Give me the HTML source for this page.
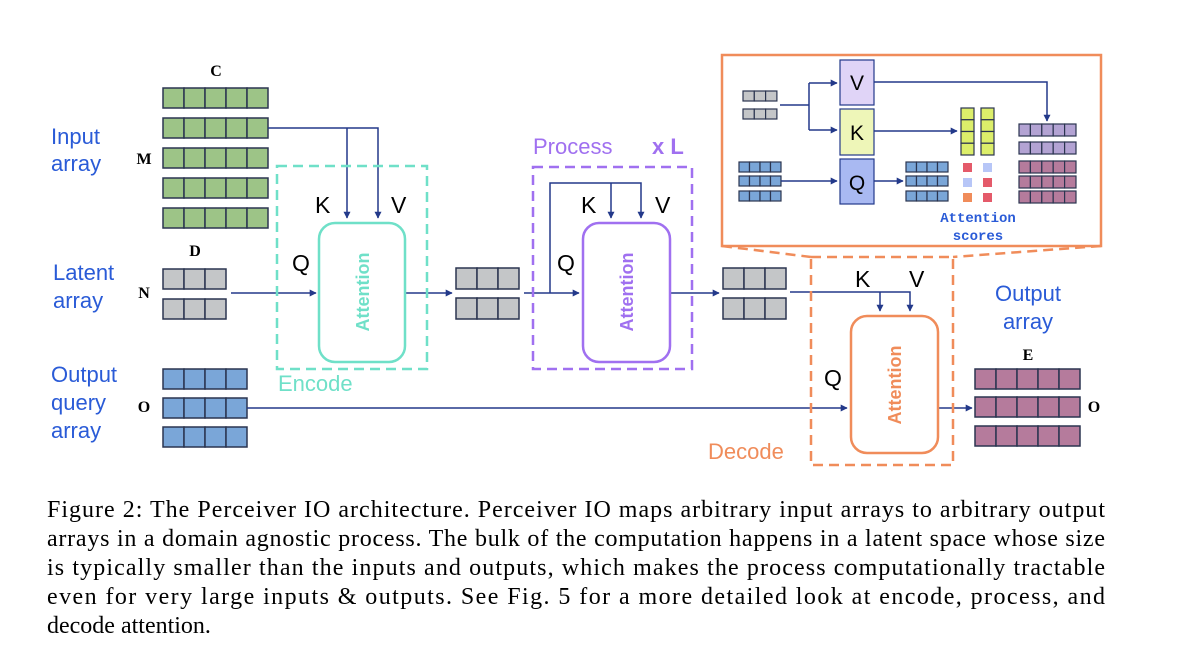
<!DOCTYPE html>
<html><head><meta charset="utf-8"><style>
html,body{margin:0;padding:0;background:#fff;}
svg{display:block;}
.s{font-family:"Liberation Sans","DejaVu Sans",sans-serif;}
.t{font-family:"Liberation Serif",serif;}
</style></head><body>
<svg id="svg" width="1178" height="666" viewBox="0 0 1178 666" xmlns="http://www.w3.org/2000/svg">
<defs>
<marker id="a" viewBox="0 0 10 10" refX="9" refY="5" markerWidth="7" markerHeight="7" markerUnits="userSpaceOnUse" orient="auto"><path d="M0,0 L10,5 L0,10 z" fill="#23398a"/></marker>
</defs>
<rect x="722" y="55" width="379" height="191" fill="#fff" stroke="#f08c5a" stroke-width="2.5"/>
<path d="M722,246 L811,257 M1101,246 L953,257" stroke="#f08c5a" stroke-width="2.5" stroke-dasharray="10,6" fill="none"/>
<g id="grids"></g>
<g id="inset"></g>
<g fill="none" stroke="#23398a" stroke-width="1.5">
<path d="M268,128 H378 V218" marker-end="url(#a)"/>
<path d="M347,128 V218" marker-end="url(#a)"/>
<path d="M231,293 H316" marker-end="url(#a)"/>
<path d="M405,293 H452" marker-end="url(#a)"/>
<path d="M524,293 H579" marker-end="url(#a)"/>
<path d="M550,293 V183 H641 V218" marker-end="url(#a)"/>
<path d="M611,183 V218" marker-end="url(#a)"/>
<path d="M670,293 H719" marker-end="url(#a)"/>
<path d="M790,292 H910 V311" marker-end="url(#a)"/>
<path d="M880,292 V311" marker-end="url(#a)"/>
<path d="M247,408 H847" marker-end="url(#a)"/>
<path d="M938,408 H972" marker-end="url(#a)"/>
<path d="M780,105 H809"/>
<path d="M809,83 V130"/>
<path d="M809,83 H837" marker-end="url(#a)"/>
<path d="M809,130 H837" marker-end="url(#a)"/>
<path d="M781,181 H837" marker-end="url(#a)"/>
<path d="M874,181 H903" marker-end="url(#a)"/>
<path d="M874,131 H957" marker-end="url(#a)"/>
<path d="M874,82 H1047 V121" marker-end="url(#a)"/>
</g>
<rect x="277" y="166" width="150" height="203" fill="none" stroke="#6fe0c8" stroke-width="2.5" stroke-dasharray="10,6"/>
<rect x="319" y="223" width="86" height="139" rx="16" fill="none" stroke="#6fe0c8" stroke-width="2.5"/>
<rect x="533" y="167" width="159" height="202" fill="none" stroke="#a070f0" stroke-width="2.5" stroke-dasharray="10,6"/>
<rect x="583" y="223" width="87" height="139" rx="16" fill="none" stroke="#a070f0" stroke-width="2.5"/>
<rect x="811" y="257" width="142" height="208" fill="none" stroke="#f08c5a" stroke-width="2.5" stroke-dasharray="10,6"/>
<rect x="851" y="316" width="87" height="137" rx="16" fill="none" stroke="#f08c5a" stroke-width="2.5"/>
<rect x="840" y="60" width="34" height="45" fill="#e0d4f7" stroke="#23398a" stroke-width="1.2"/>
<rect x="840" y="109" width="34" height="46" fill="#eef6b8" stroke="#23398a" stroke-width="1.2"/>
<rect x="840" y="159" width="34" height="45" fill="#a9b9f2" stroke="#23398a" stroke-width="1.2"/>
<g class="s" font-size="21" fill="#000" text-anchor="middle">
<text x="857" y="90">V</text><text x="857" y="140">K</text><text x="857" y="190">Q</text>
</g>
<g font-family="'Liberation Mono',monospace" font-weight="bold" font-size="14" fill="#2a5bd7" text-anchor="middle">
<text x="978" y="222">Attention</text><text x="978" y="240">scores</text>
</g>
<g class="s" fill="#2a5bd7" font-size="22">
<text x="51" y="144">Input</text><text x="51" y="171">array</text>
<text x="53" y="280">Latent</text><text x="53" y="308">array</text>
<text x="51" y="382">Output</text><text x="51" y="410">query</text><text x="51" y="438">array</text>
<text x="1028" y="301" text-anchor="middle">Output</text><text x="1028" y="329" text-anchor="middle">array</text>
</g>
<g class="t" font-weight="bold" font-size="16" fill="#000" text-anchor="middle">
<text x="216" y="76">C</text><text x="144" y="164">M</text>
<text x="195" y="256">D</text><text x="144" y="298">N</text>
<text x="144" y="412">O</text>
<text x="1028" y="360">E</text><text x="1094" y="412">O</text>
</g>
<g class="s" font-size="23" fill="#000">
<text x="315" y="213">K</text><text x="391" y="213">V</text><text x="292" y="271">Q</text>
<text x="581" y="213">K</text><text x="655" y="213">V</text><text x="557" y="271">Q</text>
<text x="855" y="287">K</text><text x="909" y="287">V</text><text x="824" y="386">Q</text>
</g>
<g class="s" font-size="22">
<text x="278" y="391" fill="#6fe0c8">Encode</text>
<text x="533" y="154" fill="#a070f0">Process</text>
<text x="652" y="154" fill="#a070f0" font-weight="bold">x L</text>
<text x="708" y="459" fill="#f08c5a">Decode</text>
</g>
<g class="s" font-size="18" font-weight="bold" text-anchor="middle">
<text transform="translate(369,292) rotate(-90)" fill="#6fe0c8">Attention</text>
<text transform="translate(633,292) rotate(-90)" fill="#a070f0">Attention</text>
<text transform="translate(901,385) rotate(-90)" fill="#f08c5a">Attention</text>
</g>
<g class="t" font-size="24" fill="#000">
<text x="47" y="517" textLength="1058" lengthAdjust="spacing">Figure 2: The Perceiver IO architecture. Perceiver IO maps arbitrary input arrays to arbitrary output</text>
<text x="47" y="546" textLength="1058" lengthAdjust="spacing">arrays in a domain agnostic process. The bulk of the computation happens in a latent space whose size</text>
<text x="47" y="575" textLength="1058" lengthAdjust="spacing">is typically smaller than the inputs and outputs, which makes the process computationally tractable</text>
<text x="47" y="604" textLength="1058" lengthAdjust="spacing">even for very large inputs &amp; outputs. See Fig. 5 for a more detailed look at encode, process, and</text>
<text x="47" y="633">decode attention.</text>
</g>
</svg>
<script>
(function(){
var NS="http://www.w3.org/2000/svg";
function row(g,x,y,n,w,h,fill,sw){
  for(var i=0;i<n;i++){var r=document.createElementNS(NS,"rect");
  r.setAttribute("x",x+i*w);r.setAttribute("y",y);r.setAttribute("width",w);r.setAttribute("height",h);
  r.setAttribute("fill",fill);r.setAttribute("stroke","#2b3550");r.setAttribute("stroke-width",sw||1.5);g.appendChild(r);}
}
var g=document.getElementById("grids");
[88,118,148,178,208].forEach(function(y){row(g,163,y,5,21,20,"#9dc487");});
[269,299].forEach(function(y){row(g,163,y,3,21,20,"#c4c6c8");});
[369,398,427].forEach(function(y){row(g,163,y,4,21,20,"#7aa6d8");});
[268,298].forEach(function(y){row(g,456,y,3,21,21,"#c4c6c8");});
[268,298].forEach(function(y){row(g,723,y,3,21,21,"#c4c6c8");});
[369,397,426].forEach(function(y){row(g,975,y,5,21,20,"#b57b9c");});
var h=document.getElementById("inset");
[91,109].forEach(function(y){row(h,743,y,3,11.3,10,"#c4c6c8",1.2);});
[162,176,191].forEach(function(y){row(h,739,y,4,10.5,10,"#7aa6d8",1.2);});
[162,176,191].forEach(function(y){row(h,906,y,4,10.5,10,"#7aa6d8",1.2);});
[961,981].forEach(function(x){for(var i=0;i<4;i++)row(h,x,108+i*11.75,1,13,11.75,"#dcee6a",1.2);});
[124,142].forEach(function(y){row(h,1019,y,5,11.4,12,"#b3a3d3",1.2);});
[161,176,191].forEach(function(y){row(h,1019,y,5,11.4,12,"#b57b9c",1.2);});
var sq=[[963,163,"#e45a6a"],[983,163,"#b7c6f7"],[963,178,"#b7c6f7"],[983,178,"#e45a6a"],[963,193,"#f08c5a"],[983,193,"#e45a6a"]];
sq.forEach(function(s){var r=document.createElementNS(NS,"rect");r.setAttribute("x",s[0]);r.setAttribute("y",s[1]);r.setAttribute("width",9);r.setAttribute("height",9);r.setAttribute("fill",s[2]);h.appendChild(r);});
})();
</script>
</body></html>
